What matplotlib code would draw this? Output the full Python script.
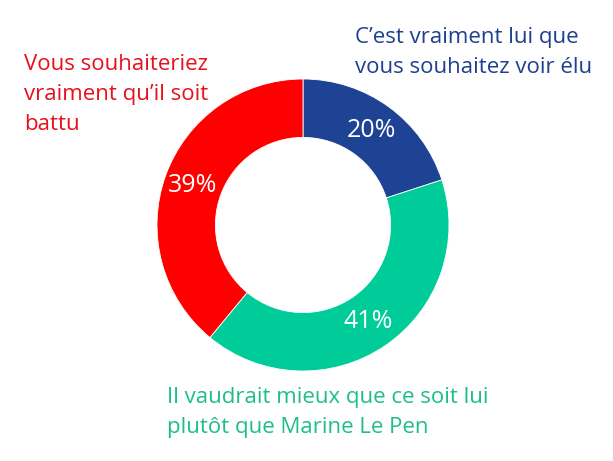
import matplotlib
matplotlib.use('Agg')
import matplotlib.pyplot as plt
import numpy as np

values = [20, 41, 39]
pct_labels = ['20%', '41%', '39%']
colors = ['#1E4394', '#00CC99', '#FF0000']
label_blue = ["C\u2019est vraiment lui que", "vous souhaitez voir élu"]
label_red = ["Vous souhaiteriez", "vraiment qu\u2019il soit", "battu"]
label_green = ["Il vaudrait mieux que ce soit lui", "plutôt que Marine Le Pen"]

plt.rcParams['font.family'] = ['Open Sans', 'DejaVu Sans']

W, H = 613, 461
fig = plt.figure(figsize=(W / 100, H / 100), dpi=100)

# donut: center (303, 225), radius 146 px
cx, cy, r = 303, 225, 146
ax = fig.add_axes([(cx - r) / W, (H - cy - r) / H, 2 * r / W, 2 * r / H])
wedges, _ = ax.pie(values, colors=colors, startangle=90, counterclock=False,
                   radius=1, wedgeprops=dict(width=0.4, edgecolor='white', linewidth=0.6))
ax.set_xlim(-1, 1)
ax.set_ylim(-1, 1)
ax.set_aspect('equal')
ax.axis('off')

for w, lab in zip(wedges, pct_labels):
    ang = np.deg2rad((w.theta1 + w.theta2) / 2)
    ax.text(0.8 * np.cos(ang), 0.8 * np.sin(ang), lab, color='white',
            fontsize=18, ha='center', va='center')


def block(lines, x, y0, color, size=16, pitch=30):
    for i, s in enumerate(lines):
        fig.text(x / W, 1 - (y0 + i * pitch) / H, s, color=color, fontsize=size,
                 ha='left', va='baseline')


block(label_blue, 355, 43, '#1F3F8F')
block(label_red, 24, 70, '#E8101A')
block(label_green, 167, 403, '#1DBE8C')

fig.savefig('out.png', dpi=100)
